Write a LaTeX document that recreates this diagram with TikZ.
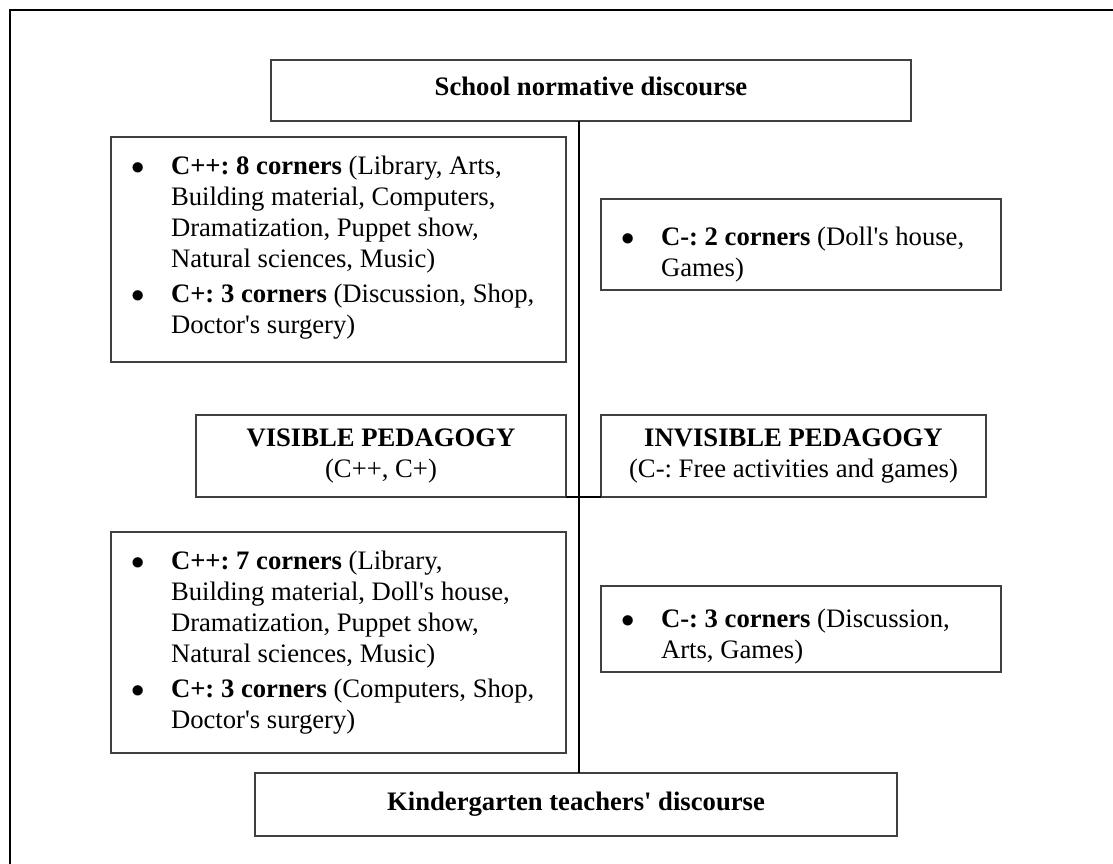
\documentclass[tikz,border=0pt]{standalone}
\usepackage{fontspec}
\setmainfont{Liberation Serif}
\usetikzlibrary{positioning}

% bullet item with hanging text
\newcommand{\bitem}[1]{\noindent\makebox[27pt][l]{\hspace{9pt}$\bullet$}\parbox[t]{\dimexpr\linewidth-33pt\relax}{\strut#1\strut}\par}
% box content, top aligned
\newcommand{\boxtext}[4]{\parbox[c][#2][t]{#1}{\vspace*{#3}#4}}
\newcommand{\ap}{\textquotesingle}

\tikzset{
	frame/.style={draw=black, line width=1pt},
	link/.style={draw=black, line width=0.5pt},
	box/.style={draw=black!75, line width=0.6pt, outer sep=0pt, anchor=north west, font=\fontsize{12}{14}\selectfont\frenchspacing},
	headbox/.style={box, align=center, inner sep=2pt},
	listbox/.style={box, inner sep=0pt}
}

\begin{document}
\begin{tikzpicture}[x=0.45pt, y=-0.45pt]
	\useasboundingbox (0,0) rectangle (1113,864);
	\draw[frame] (1113,10) -- (10,10) -- (10,864);

	%% SCHOOL discourse
	\node[headbox, minimum width=288pt, minimum height=27.45pt] (school_disc) at (271,60)
		{\textbf{School normative discourse}\rule[-4pt]{0pt}{4pt}};
	\node[listbox] (corners_vis_school) at (111,137){\boxtext{204.75pt}{101.25pt}{7pt}{%
		\bitem{\textbf{C++: 8 corners} (Library, Arts,\\ Building material, Computers,\\ Dramatization, Puppet show,\\ Natural sciences, Music)}\vspace{0.75pt}
		\bitem{\textbf{C+: 3 corners} (Discussion, Shop,\\ Doctor\ap s surgery)}}};
	\node[listbox] (corners_invis_school) at (601,199){\boxtext{180pt}{40.95pt}{11pt}{%
		\bitem{\textbf{C-: 2 corners} (Doll\ap s house,\\ Games)}}};

	%% PEDAGOGY
	\node[headbox, minimum width=166.5pt, minimum height=36.9pt] (vis_ped) at (196,415)
		{\textbf{VISIBLE PEDAGOGY}\\(C++, C+)};
	\node[headbox, minimum width=173.25pt, minimum height=36.9pt, anchor=west, right=15.75pt of vis_ped] (invis_ped)
		{\textbf{INVISIBLE PEDAGOGY}\\(C-: Free activities and games)};

	%% KINDERGARTEN discourse
	\node[listbox] (corners_vis_kg) at (111,532){\boxtext{204.75pt}{99.45pt}{7pt}{%
		\bitem{\textbf{C++: 7 corners} (Library,\\ Building material, Doll\ap s house,\\ Dramatization, Puppet show,\\ Natural sciences, Music)}\vspace{0.75pt}
		\bitem{\textbf{C+: 3 corners} (Computers, Shop,\\ Doctor\ap s surgery)}}};
	\node[listbox] (corners_invis_kg) at (601,586){\boxtext{180pt}{38.7pt}{9pt}{%
		\bitem{\textbf{C-: 3 corners} (Discussion,\\ Arts, Games)}}};
	\node[headbox, minimum width=288.9pt, minimum height=28.35pt] (kg_disc) at (255,773)
		{\textbf{Kindergarten teachers\ap\ discourse}};

	% spine
	\coordinate (spine) at (579,0);
	\draw[link] (school_disc.south -| spine) -- (kg_disc.north -| spine);
	\draw[link] (vis_ped.south east) -- (invis_ped.south west);

\end{tikzpicture}
\end{document}
